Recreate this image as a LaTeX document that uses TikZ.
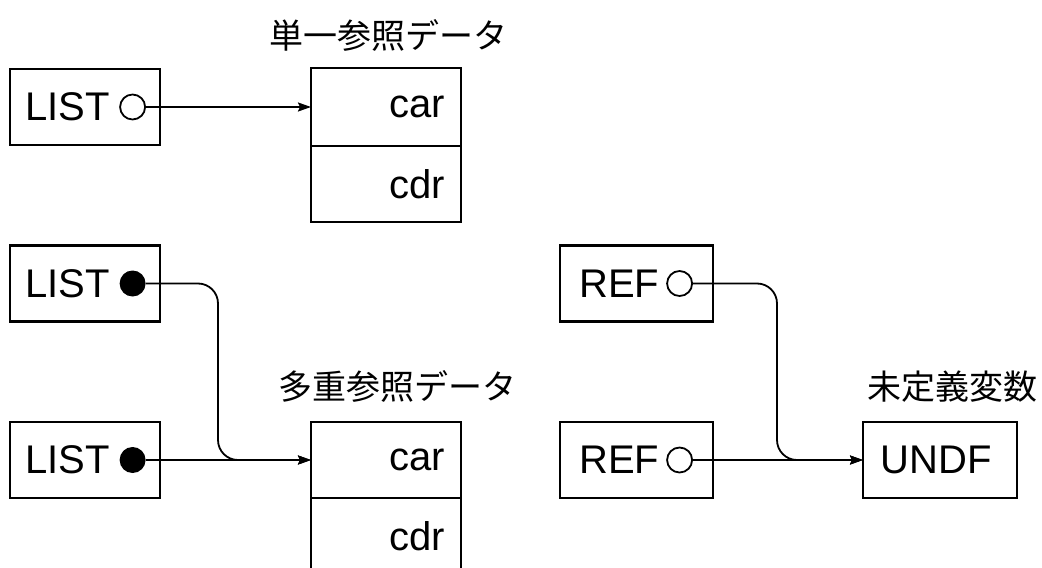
\documentclass[tikz,border=0pt]{standalone}
\usepackage{fontspec}
\setmainfont{Liberation Sans}
\newfontfamily\jpfont{Noto Sans CJK JP}
\usetikzlibrary{arrows.meta, positioning}

\tikzset{
  cell/.style={draw, line width=1.1pt, minimum width=75pt, minimum height=38pt, inner sep=0pt, outer sep=0pt},
  holedot/.style={circle, draw, line width=0.9pt, minimum size=12.5pt, inner sep=0pt},
  filldot/.style={circle, fill=black, minimum size=13pt, inner sep=0pt},
  lbl/.style={font=\fontsize{20}{22}\selectfont, inner sep=0pt},
  jp/.style={font=\jpfont\fontsize{17}{19}\selectfont, inner sep=0pt},
  ptr/.style={line width=0.9pt, rounded corners=10pt, -{Stealth[length=6.5pt, width=4.5pt, inset=1pt]}},
}

\begin{document}
\begin{tikzpicture}[x=0.5pt, y=-0.5pt]
    \useasboundingbox (0,0) rectangle (1042,567);
    \clip (0,0) rectangle (1042,567);

    % 単一参照
    \node[jp] (tsingle) at (388,35) {単一参照データ};
    \node[cell] (list1) at (85,107) {};
    \node[lbl, right=7.5pt of list1.west] (list1t) {LIST};
    \node[holedot, left=7pt of list1.east] (o1) {};
    \node[cell, minimum height=39pt] (car1) at (386,107) {};
    \node[cell, below=0pt of car1] (cdr1) {};
    \node[lbl, left=8pt of car1.east] {car};
    \node[lbl, left=8pt of cdr1.east] {cdr};
    \draw[ptr] (o1) -- (car1);

    % 多重参照
    \node[jp] (tmulti) at (397,386) {多重参照データ};
    \node[cell] (list2) at (85,283.5) {};
    \node[lbl, right=7.5pt of list2.west] (list2t) {LIST};
    \node[filldot, left=7pt of list2.east] (d1) {};
    \node[cell] (list3) at (85,460) {};
    \node[lbl, right=7.5pt of list3.west] (list3t) {LIST};
    \node[filldot, left=7pt of list3.east] (d2) {};
    \node[cell] (car2) at (386,460) {};
    \node[cell, below=0pt of car2] (cdr2) {};
    \node[lbl, left=8pt of car2.east] {car};
    \node[lbl, left=8pt of cdr2.east] {cdr};
    \coordinate (j1) at (218,460);
    \draw[ptr] (d1) -| (j1) -- (car2);
    \draw[ptr] (d2) -- (car2);

    % 未定義変数
    \node[jp] (tundef) at (952,387) {未定義変数};
    \node[cell, minimum width=76.5pt] (ref1) at (636.5,283.5) {};
    \node[lbl, right=9.5pt of ref1.west] (ref1t) {REF};
    \node[holedot, left=10pt of ref1.east] (o2) {};
    \node[cell, minimum width=76.5pt] (ref2) at (636.5,460) {};
    \node[lbl, right=9.5pt of ref2.west] (ref2t) {REF};
    \node[holedot, left=10pt of ref2.east] (o3) {};
    \node[cell, minimum width=77pt] (undf) at (940,460) {};
    \node[lbl, right=8.5pt of undf.west] (undft) {UNDF};
    \coordinate (j2) at (777,460);
    \draw[ptr] (o2) -| (j2) -- (undf);
    \draw[ptr] (o3) -- (undf);
\end{tikzpicture}
\end{document}
